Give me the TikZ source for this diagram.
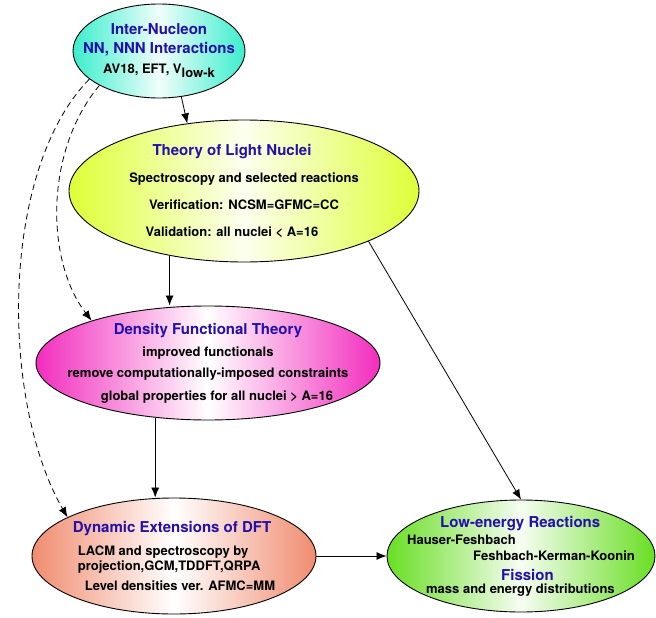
\documentclass[tikz,border=0pt]{standalone}
\usepackage{fontspec}
\setmainfont{TeX Gyre Heros}
\usepackage{xcolor}
\usetikzlibrary{shapes.geometric,arrows.meta}
\definecolor{titleblue}{RGB}{35,15,170}
\definecolor{myturq}{RGB}{60,238,205}
\definecolor{mylime}{RGB}{222,255,55}
\definecolor{mymagenta}{RGB}{242,45,190}
\definecolor{mysalmon}{RGB}{240,140,112}
\definecolor{mygreen}{RGB}{105,222,35}

\newcommand{\ttl}[1]{{\fontsize{15}{18}\selectfont\color{titleblue}#1}}

\begin{document}
\begin{tikzpicture}[x=1pt, y=1pt,
    blob/.style={ellipse, draw, line width=0.9pt, inner xsep=-60pt, inner ysep=-20pt, font=\bfseries\fontsize{13}{16}\selectfont},
    arr/.style={-{Latex[length=10pt,width=8pt]}, line width=0.8pt},
    dasharr/.style={arr, dash pattern=on 6pt off 4pt}]
    \useasboundingbox (0,0) rectangle (656,-618);

    \node[blob, minimum width=172, minimum height=94, left color=myturq, right color=myturq, middle color=myturq!8, align=center] (nucleon) at (159,-51)
      {\ttl{Inter-Nucleon}\\[3pt]\ttl{NN, NNN Interactions}\\[4pt]AV18, EFT, V\raisebox{-4pt}{low-k}};
    \node[blob, minimum width=350, minimum height=142, left color=mylime, right color=mylime, middle color=mylime!8, align=center] (light) at (244,-191)
      {\ttl{Theory of Light Nuclei}\hspace*{24pt}\\[11pt]Spectroscopy and selected reactions\hspace*{24pt}\\[11pt]Verification: NCSM=GFMC=CC\hspace*{24pt}\\[11pt]Validation: all nuclei < A=16\hspace*{24pt}};
    \node[blob, minimum width=344, minimum height=114, left color=mymagenta, right color=mymagenta, middle color=white, align=center] (dft) at (208,-363)
      {\ttl{Density Functional Theory}\\[6pt]improved functionals\\[5pt]remove computationally-imposed constraints\\[7pt]\hspace*{18pt}global properties for all nuclei > A=16};
    \node[blob, minimum width=284, minimum height=116, left color=mysalmon, right color=mysalmon, middle color=white, align=left] (dynamic) at (174,-556)
      {\ttl{Dynamic Extensions of DFT}\\[7pt]\hspace*{5pt}LACM and spectroscopy by\\[-1pt]\hspace*{5pt}projection,GCM,TDDFT,QRPA\\[4pt]\hspace*{12pt}Level densities ver. AFMC=MM};
    \node[blob, minimum width=268, minimum height=112, left color=mygreen, right color=mygreen, middle color=mygreen!6, align=left] (reactions) at (521,-556)
      {\hspace*{33pt}\ttl{Low-energy Reactions}\\[1pt]Hauser-Feshbach\\[0pt]\hspace*{66pt}Feshbach-Kerman-Koonin\\[4pt]\hspace*{94pt}\ttl{Fission}\\[-3pt]\hspace*{19pt}mass and energy distributions};

    \draw[arr] (nucleon.-64) -- (light.130);
    \draw[arr] (light.221) -- (light.221 |- dft.north);
    \draw[arr] (dft.226) -- (dft.226 |- dynamic.north);
    \draw[arr] (light.-22) -- (reactions.north);
    \draw[arr] (dynamic) -- (reactions);
    \draw[dasharr] (nucleon.210) .. controls (45,-150) and (45,-260) .. (dft.160);
    \draw[dasharr] (nucleon.202) .. controls (0,-170) and (0,-400) .. (dynamic.160);
\end{tikzpicture}
\end{document}
